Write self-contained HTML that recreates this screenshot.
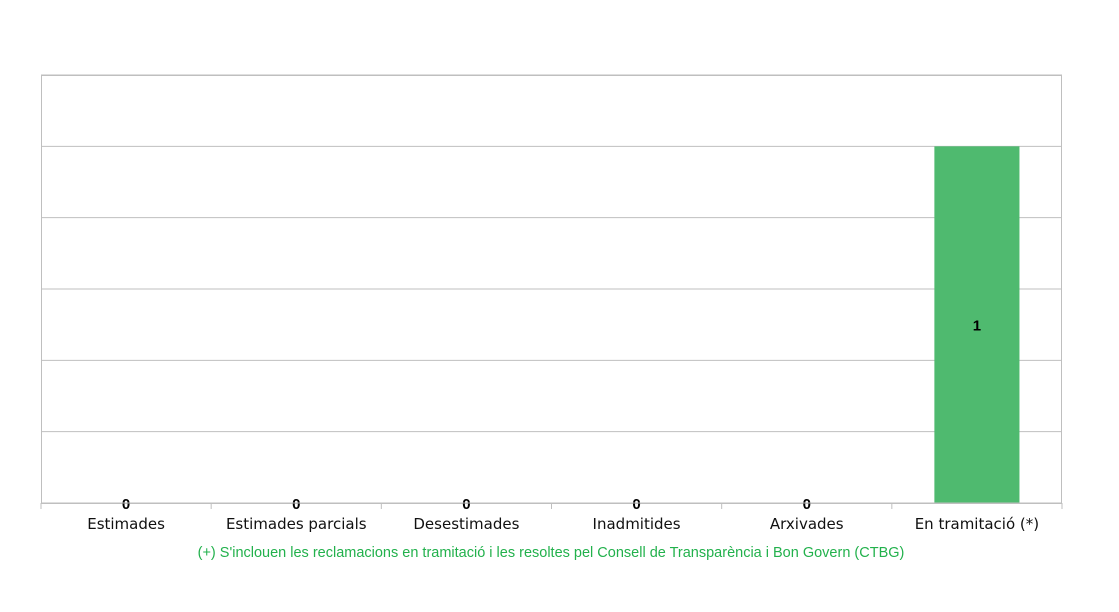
<!DOCTYPE html>
<html><head><meta charset="utf-8"><style>
body{margin:0;background:#fff;width:1119px;height:612px;overflow:hidden}
svg{display:block}
</style></head><body>
<svg id="chart" width="1119" height="612" xmlns="http://www.w3.org/2000/svg"></svg>
<script>
const categories=["Estimades","Estimades parcials","Desestimades","Inadmitides","Arxivades","En tramitació (*)"];
const values=[0,0,0,0,0,1];
const yTicks=[0,0.2,0.4,0.6,0.8,1,1.2];
const NS="http://www.w3.org/2000/svg";
const svg=document.getElementById('chart');
const L=41,R=1062,T=75,B=503,yMax=1.2;
const y=v=>B-(v/yMax)*(B-T);
const bw=(R-L)/categories.length;
const x=i=>L+i*bw;
function mk(tag,attrs,parent){const e=document.createElementNS(NS,tag);for(const k in attrs)e.setAttribute(k,attrs[k]);(parent||svg).appendChild(e);return e;}
const grid=mk('g',{});


yTicks.forEach(t=>{const l=mk('line',{x1:L,x2:R,y1:y(t),y2:y(t),stroke:'#bfbfbf','stroke-width':1},grid);

});
const box=mk('rect',{x:L+0.5,y:T+0.5,width:R-L-1,height:B-T,fill:'none',stroke:'#bfbfbf'});


categories.forEach((c,i)=>{
  const v=values[i];
  const cx=x(i)+bw/2;
  const bar=mk('rect',{x:cx-bw/4,y:y(v),width:bw/2,height:B-y(v),fill:'#4fba6f'});
  
  
  const lblY=v>0?(y(v)+B)/2+6:B+6;
  const vl=mk('text',{x:cx,y:lblY,'text-anchor':'middle','font-family':'Liberation Sans, sans-serif','font-size':15,'font-weight':'bold',fill:'#000'});
  vl.textContent=v;
  
  
  const cl=mk('text',{x:cx,y:529,'text-anchor':'middle','font-family':'DejaVu Sans, Liberation Sans, sans-serif','font-size':15,fill:'#111'});
  cl.textContent=c;
  
  
});
for(let i=0;i<=categories.length;i++){
  const tk=mk('line',{x1:x(i),x2:x(i),y1:B,y2:B+6,stroke:'#bfbfbf'});
  
  
}
const ax=mk('line',{x1:L,x2:R,y1:B,y2:B,stroke:'#bfbfbf'});


const fn=mk('text',{x:551,y:557,'text-anchor':'middle','font-family':'Liberation Sans, sans-serif','font-size':14.5,fill:'#22b14c'});
fn.textContent="(+) S'inclouen les reclamacions en tramitació i les resoltes pel Consell de Transparència i Bon Govern (CTBG)";


</script>
</body></html>
